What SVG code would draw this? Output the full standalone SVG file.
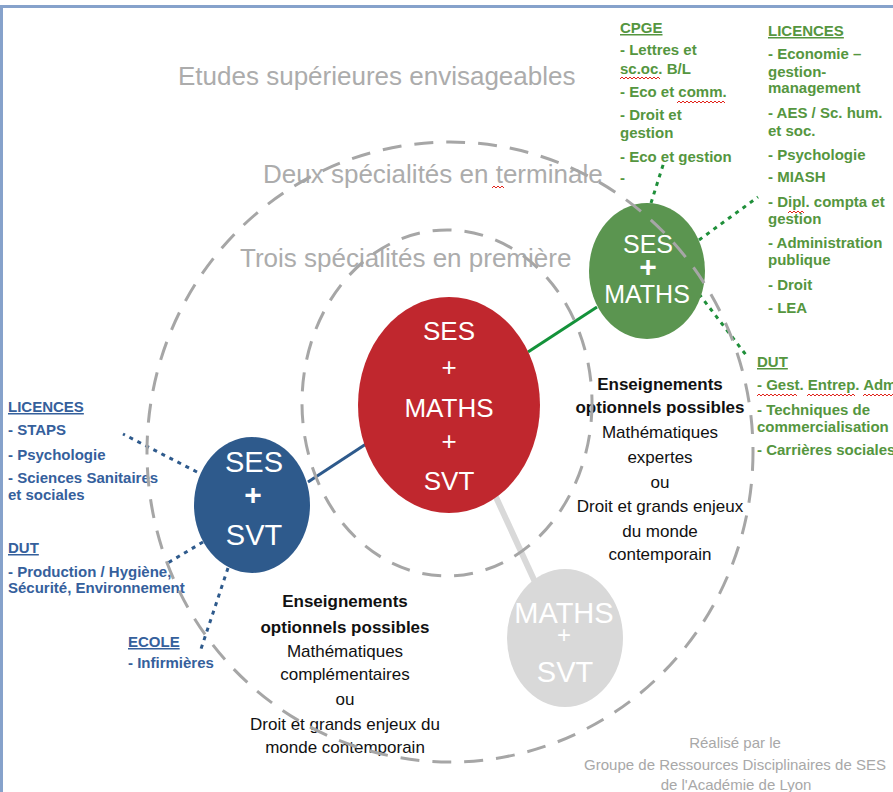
<svg xmlns="http://www.w3.org/2000/svg" width="893" height="792" viewBox="0 0 893 792">
<defs>
<style>
text{font-family:"Liberation Sans",Arial,sans-serif}
.hd{font-size:26px;fill:#acacac}
.ct{fill:#ffffff;text-anchor:middle}
.g{font-size:15px;font-weight:bold;fill:#559640}
.b{font-size:15px;font-weight:bold;fill:#35609c}
.u{text-decoration:underline}
.k{font-size:17px;fill:#111111;text-anchor:middle}
.kb{font-weight:bold}
.cr{font-size:15px;fill:#a8a8a8;text-anchor:middle}
.ring{fill:none;stroke:#a6a6a6;stroke-width:3;stroke-dasharray:19 13}
.dg{stroke:#1f8f3a;stroke-width:3;stroke-dasharray:4 5;fill:none}
.db{stroke:#2e5a8c;stroke-width:3;stroke-dasharray:4 5;fill:none}
.sq{fill:none;stroke:#e2231a;stroke-width:1}
</style>
</defs>
<rect width="893" height="792" fill="#ffffff"/>
<path d="M1.5,792 V6.5 H893" fill="none" stroke="#86a2cb" stroke-width="3"/>

<g id="headings">
<text class="hd" x="178" y="85">Etudes supérieures envisageables</text>
<text class="hd" x="263" y="183">Deux spécialités en terminale</text>
<text class="hd" x="240" y="267">Trois spécialités en première</text>
</g>

<g id="connectors">
<line x1="528" y1="352" x2="597" y2="307" stroke="#14923a" stroke-width="3"/>
<line x1="308" y1="482" x2="366" y2="444" stroke="#2e5a8c" stroke-width="3"/>
<line x1="495" y1="495" x2="535" y2="582" stroke="#d9d9d9" stroke-width="6"/>
<line class="dg" x1="651" y1="203" x2="664" y2="162"/>
<line class="dg" x1="699" y1="240" x2="758" y2="197"/>
<line class="dg" x1="699" y1="294" x2="746" y2="355"/>
<line class="db" x1="197" y1="472" x2="123" y2="434"/>
<line class="db" x1="203" y1="542" x2="166" y2="564"/>
<line class="db" x1="228" y1="568" x2="200" y2="652"/>
</g>

<g id="node-ses-maths-svt">
<ellipse cx="449" cy="405" rx="91" ry="108" fill="#c0272e"/>
<text class="ct" x="449" y="340" font-size="26">SES</text>
<text class="ct" x="449" y="376" font-size="26">+</text>
<text class="ct" x="449" y="417" font-size="26">MATHS</text>
<text class="ct" x="449" y="450" font-size="26">+</text>
<text class="ct" x="449" y="490" font-size="26">SVT</text>
</g>

<g id="node-ses-maths">
<ellipse cx="647" cy="271" rx="58" ry="68" fill="#5b9550"/>
<text class="ct" x="648" y="253" font-size="25">SES</text>
<text class="ct" x="648" y="277" font-size="30" font-weight="bold">+</text>
<text class="ct" x="647" y="303" font-size="25">MATHS</text>
</g>

<g id="node-ses-svt">
<ellipse cx="252" cy="505" rx="58" ry="68" fill="#2e5a8c"/>
<text class="ct" x="254" y="472" font-size="29">SES</text>
<text class="ct" x="253" y="505" font-size="30" font-weight="bold">+</text>
<text class="ct" x="254" y="545" font-size="29">SVT</text>
</g>

<g id="node-maths-svt">
<ellipse cx="565" cy="638" rx="58" ry="69" fill="#d9d9d9"/>
<text class="ct" x="564" y="623" font-size="29">MATHS</text>
<text class="ct" x="564" y="643" font-size="24">+</text>
<text class="ct" x="565" y="682" font-size="29">SVT</text>
</g>

<g id="list-cpge">
<text class="g u" x="620" y="33">CPGE</text>
<text class="g" x="620" y="55">- Lettres et</text>
<text class="g" x="620" y="74">sc.oc. B/L</text>
<text class="g" x="620" y="97">- Eco et comm.</text>
<text class="g" x="620" y="120">- Droit et</text>
<text class="g" x="620" y="138">gestion</text>
<text class="g" x="620" y="162">- Eco et gestion</text>
<text class="g" x="620" y="183">-</text>
</g>

<g id="list-licences-green">
<text class="g u" x="768" y="36">LICENCES</text>
<text class="g" x="768" y="59">- Economie –</text>
<text class="g" x="768" y="77">gestion-</text>
<text class="g" x="768" y="93">management</text>
<text class="g" x="768" y="118">- AES / Sc. hum.</text>
<text class="g" x="768" y="136">et soc.</text>
<text class="g" x="768" y="160">- Psychologie</text>
<text class="g" x="768" y="182">- MIASH</text>
<text class="g" x="768" y="207">- Dipl. compta et</text>
<text class="g" x="768" y="224">gestion</text>
<text class="g" x="768" y="248">- Administration</text>
<text class="g" x="768" y="265">publique</text>
<text class="g" x="768" y="290">- Droit</text>
<text class="g" x="768" y="313">- LEA</text>
</g>

<g id="list-dut-green">
<text class="g u" x="757" y="367">DUT</text>
<text class="g" x="757" y="390">- Gest. Entrep. Adm</text>
<text class="g" x="757" y="415">- Techniques de</text>
<text class="g" x="757" y="432">commercialisation</text>
<text class="g" x="757" y="455">- Carrières sociales</text>
</g>

<g id="list-licences-blue">
<text class="b u" x="8" y="412">LICENCES</text>
<text class="b" x="8" y="435">- STAPS</text>
<text class="b" x="8" y="460">- Psychologie</text>
<text class="b" x="8" y="483">- Sciences Sanitaires</text>
<text class="b" x="8" y="500">et sociales</text>
</g>

<g id="list-dut-blue">
<text class="b u" x="8" y="553">DUT</text>
<text class="b" x="8" y="577">- Production / Hygiène,</text>
<text class="b" x="8" y="593">Sécurité, Environnement</text>
</g>

<g id="list-ecole">
<text class="b u" x="128" y="647">ECOLE</text>
<text class="b" x="128" y="668">- Infirmières</text>
</g>

<g id="options-right">
<text class="k kb" x="660" y="390">Enseignements</text>
<text class="k kb" x="660" y="413">optionnels possibles</text>
<text class="k" x="660" y="438">Mathématiques</text>
<text class="k" x="660" y="463">expertes</text>
<text class="k" x="660" y="488">ou</text>
<text class="k" x="660" y="512">Droit et grands enjeux</text>
<text class="k" x="660" y="537">du monde</text>
<text class="k" x="660" y="560">contemporain</text>
</g>

<g id="options-left">
<text class="k kb" x="345" y="607">Enseignements</text>
<text class="k kb" x="345" y="633">optionnels possibles</text>
<text class="k" x="345" y="657">Mathématiques</text>
<text class="k" x="345" y="680">complémentaires</text>
<text class="k" x="345" y="705">ou</text>
<text class="k" x="345" y="730">Droit et grands enjeux du</text>
<text class="k" x="345" y="753">monde contemporain</text>
</g>

<g id="credits">
<text class="cr" x="735" y="748">Réalisé par le</text>
<text class="cr" x="735" y="770">Groupe de Ressources Disciplinaires de SES</text>
<text class="cr" x="736" y="790">de l'Académie de Lyon</text>
</g>

<g id="rings">
<ellipse class="ring" cx="450" cy="452" rx="303" ry="310"/>
<ellipse class="ring" cx="447" cy="403" rx="145" ry="173"/>
</g>

<g id="spellmarks">
<path class="sq" d="M620,79 l2,-2 l2,2 l2,-2 l2,2 l2,-2 l2,2 l2,-2 l2,2 l2,-2 l2,2 l2,-2 l2,2 l2,-2 l2,2 l2,-2 l2,2 l2,-2 l2,2 l2,-2 l2,2"/>
<path class="sq" d="M677,103 l2,-2 l2,2 l2,-2 l2,2 l2,-2 l2,2 l2,-2 l2,2 l2,-2 l2,2 l2,-2 l2,2 l2,-2 l2,2 l2,-2 l2,2 l2,-2 l2,2 l2,-2 l2,2 l2,-2 l2,2 l2,-2 l2,2"/>
<path class="sq" d="M492,188 l2,-2 l2,2 l2,-2 l2,2 l2,-2 l2,2"/>
<path class="sq" d="M788,213 l2,-2 l2,2 l2,-2 l2,2 l2,-2 l2,2 l2,-2 l2,2"/>
<path class="sq" d="M757,396 l2,-2 l2,2 l2,-2 l2,2 l2,-2 l2,2 l2,-2 l2,2 l2,-2 l2,2 l2,-2 l2,2 l2,-2 l2,2 l2,-2 l2,2 l2,-2 l2,2 l2,-2 l2,2"/>
<path class="sq" d="M807,396 l2,-2 l2,2 l2,-2 l2,2 l2,-2 l2,2 l2,-2 l2,2 l2,-2 l2,2 l2,-2 l2,2 l2,-2 l2,2 l2,-2 l2,2 l2,-2 l2,2 l2,-2 l2,2 l2,-2 l2,2 l2,-2 l2,2"/>
<path class="sq" d="M863,396 l2,-2 l2,2 l2,-2 l2,2 l2,-2 l2,2 l2,-2 l2,2 l2,-2 l2,2 l2,-2 l2,2 l2,-2 l2,2 l2,-2 l2,2"/>
</g>
</svg>
